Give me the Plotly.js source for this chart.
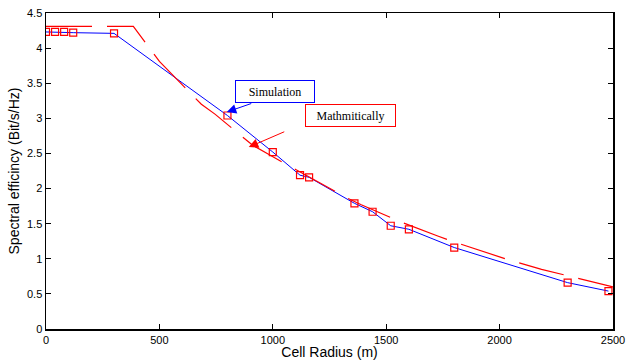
<!DOCTYPE html>
<html>
<head>
<meta charset="utf-8">
<script src="https://cdn.plot.ly/plotly-3.0.1.min.js"></script>
<style>html,body{margin:0;padding:0;background:#fff;}#chart{width:626px;height:360px;}</style>
</head>
<body>
<div id="chart"></div>
<script>
// Simulation (blue line with red square markers)
const simRadius = [0, 40, 80, 120, 300, 800, 1000, 1120, 1160, 1360, 1440, 1520, 1600, 1800, 2300, 2480];
const simEff    = [4.23, 4.23, 4.23, 4.22, 4.21, 3.04, 2.52, 2.19, 2.16, 1.79, 1.67, 1.47, 1.42, 1.16, 0.66, 0.54];
// Mathematical (red dashed line)
const mathRadius = [0, 385, 500, 555, 685, 745, 910, 985, 1090, 1325, 1390, 1560, 1730, 1790, 2035, 2120, 2185, 2500];
const mathEff    = [4.31, 4.31, 3.81, 3.63, 3.20, 3.06, 2.62, 2.48, 2.29, 1.87, 1.77, 1.53, 1.32, 1.25, 0.99, 0.91, 0.85, 0.60];
const xTicks = [0, 500, 1000, 1500, 2000, 2500];
const yTicks = [0, 0.5, 1, 1.5, 2, 2.5, 3, 3.5, 4, 4.5];

const traces = [
  {x: simRadius, y: simEff, mode: 'lines', line: {color: '#0000ff', width: 1}, showlegend: false, hoverinfo: 'skip'},
  {x: mathRadius, y: mathEff, mode: 'lines', line: {color: '#ff0000', width: 1.2, dash: '46px,15px'}, showlegend: false, hoverinfo: 'skip'},
  {x: simRadius, y: simEff, mode: 'markers', marker: {symbol: 'square-open', size: 7, color: '#ff0000', line: {width: 1.2, color: '#ff0000'}}, showlegend: false, hoverinfo: 'skip'}
];

const axisCommon = {
  showgrid: false, zeroline: false, showline: true, linecolor: '#000', linewidth: 1.5,
  mirror: 'allticks', ticks: 'inside', ticklen: 5, tickcolor: '#000', tickwidth: 1,
  tickfont: {family: 'Liberation Sans, Arial, sans-serif', size: 11, color: '#000'},
  automargin: false
};

const layout = {
  width: 626, height: 360,
  margin: {l: 46, r: 13, t: 13, b: 31},
  paper_bgcolor: '#fff', plot_bgcolor: '#fff',
  xaxis: Object.assign({}, axisCommon, {
    range: [0, 2500], tickvals: xTicks, ticktext: xTicks.map(String),
    title: {text: 'Cell Radius (m)', font: {family: 'Liberation Sans, Arial, sans-serif', size: 14, color: '#000'}, standoff: 0}
  }),
  yaxis: Object.assign({}, axisCommon, {
    range: [0, 4.5], tickvals: yTicks, ticktext: yTicks.map(String),
    title: {text: 'Spectral efficincy (Bit/s/Hz)', font: {family: 'Liberation Sans, Arial, sans-serif', size: 14, color: '#000'}, standoff: 4}
  }),
  annotations: [
    {x: 1009, y: 3.38, xref: 'x', yref: 'y', text: 'Simulation', showarrow: false,
     font: {family: 'Liberation Serif, Times New Roman, serif', size: 12, color: '#000'},
     bgcolor: '#fff', bordercolor: '#0000ff', borderwidth: 1, borderpad: 1, width: 76, height: 19},
    {x: 1341, y: 3.04, xref: 'x', yref: 'y', text: 'Mathmitically', showarrow: false,
     font: {family: 'Liberation Serif, Times New Roman, serif', size: 12, color: '#000'},
     bgcolor: '#fff', bordercolor: '#ff0000', borderwidth: 1, borderpad: 1, width: 87, height: 19},
    {x: 797, y: 3.09, xref: 'x', yref: 'y', text: '', showarrow: true, ax: 26, ay: -9,
     arrowcolor: '#0000ff', arrowhead: 2, arrowsize: 1.9, arrowwidth: 1},
    {x: 894, y: 2.59, xref: 'x', yref: 'y', text: '', showarrow: true, ax: 37, ay: -16,
     arrowcolor: '#ff0000', arrowhead: 2, arrowsize: 1.9, arrowwidth: 1}
  ]
};

Plotly.newPlot('chart', traces, layout, {staticPlot: true, displayModeBar: false});
</script>
</body>
</html>
